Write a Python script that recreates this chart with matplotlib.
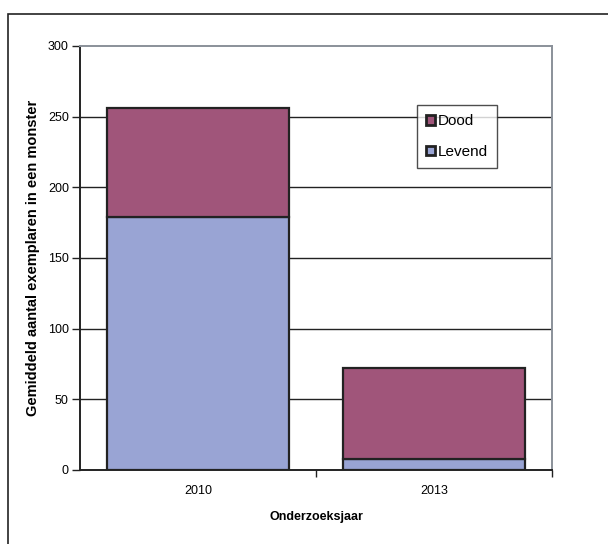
import numpy as np
import matplotlib.pyplot as plt
from matplotlib.patches import Rectangle, Patch

plt.rcParams['font.family'] = ['Liberation Sans', 'DejaVu Sans']

jaren = ['2010', '2013']
levend = [179, 7.5]
dood = [77, 64.5]

kleur_dood = '#A0557A'
kleur_levend = '#99A4D4'

fig = plt.figure(figsize=(6.08, 5.44), dpi=100)
ax = fig.add_axes([80/608, 74/544, 472/608, 424/544])

# kader rond de figuur
fig.patches.append(Rectangle((8/608, -0.1), 1.2, 1 - 14/544 + 0.1,
                             transform=fig.transFigure, fill=False,
                             edgecolor='#222222', linewidth=1.2))

x = np.arange(len(jaren))
ax.bar(x, levend, width=0.77, color=kleur_levend, edgecolor='#222222',
       linewidth=1.6, zorder=3)
ax.bar(x, dood, width=0.77, bottom=levend, color=kleur_dood,
       edgecolor='#222222', linewidth=1.6, zorder=3)

ax.set_xlim(-0.5, 1.5)
ax.set_ylim(0, 300)
ax.set_yticks(range(0, 301, 50))
ax.set_xticks([0.5, 1.5])
ax.set_xticklabels([])
ax.set_xticks(x, minor=True)
ax.set_xticklabels(jaren, minor=True)
ax.tick_params(axis='x', which='minor', length=0, labelsize=9, pad=11)
ax.tick_params(axis='x', which='major', length=5, width=1, color='#222222')
ax.tick_params(axis='y', labelsize=9, length=6, width=1, color='#222222', pad=2)

for v in range(50, 300, 50):
    ax.axhline(v, color='#222222', linewidth=1, zorder=1)

ax.spines['left'].set_color('#222222')
ax.spines['bottom'].set_color('#222222')
ax.spines['left'].set_linewidth(1.4)
ax.spines['bottom'].set_linewidth(1.4)
ax.spines['top'].set_color('#8A9099')
ax.spines['right'].set_color('#8A9099')
ax.spines['top'].set_linewidth(1.4)
ax.spines['right'].set_linewidth(1.4)

ax.set_xlabel('Onderzoeksjaar', fontsize=9, fontweight='bold', labelpad=10)
ax.set_ylabel('Gemiddeld aantal exemplaren in een monster', fontsize=10.5,
              fontweight='bold', labelpad=6)

handles = [Patch(facecolor=kleur_dood, edgecolor='#222222', linewidth=2),
           Patch(facecolor=kleur_levend, edgecolor='#222222', linewidth=2)]
leg = ax.legend(handles, ['Dood', 'Levend'], loc='upper left',
                bbox_to_anchor=((417 - 80) / 472, (470 - 105) / 424),
                fontsize=11, frameon=True, fancybox=False, edgecolor='#222222',
                handlelength=0.6, handleheight=0.6, handletextpad=0.15,
                labelspacing=1.1, borderpad=0.6, borderaxespad=0)
leg.get_frame().set_linewidth(1)
leg.set_zorder(5)

plt.savefig('out.png', dpi=100)
